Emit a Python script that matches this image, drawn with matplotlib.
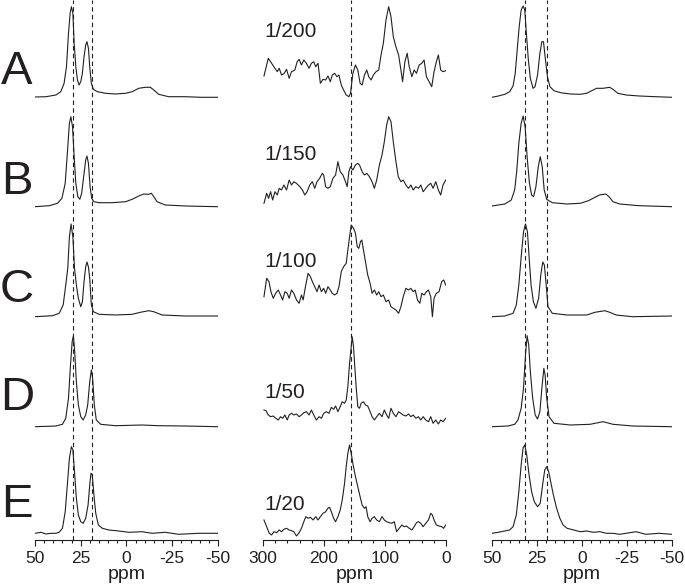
import matplotlib.pyplot as plt
from matplotlib.ticker import MultipleLocator

plt.rcParams['font.family'] = ['Liberation Sans', 'DejaVu Sans']
plt.rcParams['axes.unicode_minus'] = False

# ---------------- left column, ppm 50 .. -50 ----------------
left_a_ppm = [50, 44, 38.6, 35.9, 34.1, 32.8, 31.7, 30.8, 30.1, 29.3, 28.6, 27.7, 26.8, 25.9, 25.0, 24.1, 23.2, 22.3, 21.6,
              20.8, 20.1, 19.2, 18.1, 15.9, 11.4, 6.0, 0.5, -3.1, -6.7, -10.3, -13.0, -14.9, -17.6, -23.0, -32.1, -41.1, -49.8]
left_a_int = [0, 0.3, 2, 5.3, 13.7, 30.3, 63.7, 83.7, 90.3, 83.7, 53.7, 30.3, 17, 12, 15.3, 23.7, 40.3, 52, 55.3,
              48.7, 30.3, 13.7, 7.7, 5.3, 3.7, 3, 3.7, 5.3, 8.7, 9.7, 9.7, 7, 2.7, 0.3, 0.3, -0.3, -0.3]
left_b_ppm = [50, 42.2, 37.7, 35.3, 33.5, 32.2, 31.2, 30.4, 29.5, 28.6, 27.7, 26.6, 25.5, 24.5, 23.4, 22.3, 21.6, 20.8,
              19.9, 19.0, 17.8, 15.0, 7.8, 0.5, -3.1, -6.7, -9.4, -12.1, -13.6, -14.9, -16.7, -21.2, -32.1, -49.8]
left_b_int = [0.3, 1.3, 3.7, 8.7, 23.7, 57, 83.7, 90.3, 80.3, 50.3, 23.7, 10.3, 7.7, 13.7, 30.3, 47, 51, 43.7,
              20.3, 8.7, 5.3, 4.3, 4.3, 5.3, 7.7, 11, 13, 12.7, 13.7, 10.3, 5.3, 2, 1, 0.3]
left_c_ppm = [50, 40.4, 36.8, 34.6, 33.2, 32.1, 31.2, 30.3, 29.3, 28.4, 27.4, 26.3, 25.0, 24.1, 23.2, 22.3, 21.6, 20.8,
              20.1, 19.2, 18.1, 15.0, 6.0, -3.1, -7.6, -12.1, -14.9, -19.4, -32.1, -49.8]
left_c_int = [0.3, 1.3, 3.7, 12, 32, 48.7, 80, 93, 80, 48.7, 32, 18.7, 10.3, 15.3, 35.3, 50.3, 55, 50,
              38.7, 12, 5.3, 2.7, 2, 2.7, 4.7, 6.3, 5.3, 2, 1, 1]
left_d_ppm = [50, 38.6, 35.0, 33.2, 31.7, 30.6, 29.7, 29.0, 28.3, 27.4, 26.3, 25.0, 23.7, 22.3, 21.2, 20.1, 19.2, 18.5,
              17.6, 16.5, 14.1, 6.0, -8.5, -17.6, -32.1, -49.8]
left_d_int = [0.3, 1, 2.7, 8.7, 28.7, 62, 85.3, 91.3, 75.3, 45.3, 22, 10.3, 7, 12, 22, 45.3, 57, 48.7,
              22, 7, 2.7, 1.3, 2, 1.3, 1, 0.3]
left_e_ppm = [50, 46.7, 44.0, 41.3, 38.6, 36.8, 35.0, 33.5, 32.2, 31.2, 30.1, 29.3, 28.4, 27.4, 26.3, 25.0, 23.7, 22.3,
              21.0, 20.1, 19.4, 18.7, 17.8, 16.8, 15.4, 13.2, 9.6, 4.2, -1.3, -8.5, -13.9, -21.2, -28.4, -39.3, -49.8]
left_e_int = [0.7, 1.7, 0, 0.7, 0.7, 1.7, 5.7, 22.3, 52.3, 75.7, 87.3, 84, 62.3, 35.7, 19, 12.3, 10.7, 15.7,
              29, 49, 60.7, 59, 39, 20.7, 9, 5.7, 4, 3, 1.7, 2.3, 0.7, 1.7, -0.3, 0.7, 0.7]

# ---------------- middle column, ppm 300 .. 0 ----------------
mid_a_ppm = [298.4, 291.3, 285.9, 280.4, 276.6, 273.4, 269.6, 265.2, 261.4, 257.1, 253.3, 247.8, 244.0, 240.8, 237.0,
             233.1, 228.8, 224.5, 220.6, 216.8, 213.6, 209.8, 206.0, 201.6, 197.3, 193.5, 189.7, 186.4, 182.6, 178.8,
             175.5, 171.7, 167.9, 163.6, 159.2, 156.5, 152.7, 148.4, 144.6, 140.8, 137.5, 133.7, 129.9, 126.6, 122.8,
             119.0, 114.7, 110.3, 106.5, 102.7, 98.4, 94.0, 90.2, 86.4, 82.1, 77.7, 73.9, 71.2, 67.4, 63.6,
             60.3, 56.0, 52.2, 48.4, 44.0, 39.7, 35.9, 32.1, 27.7, 23.4, 19.6, 15.8, 12.5, 8.7, 4.9, 0.5]
mid_a_int = [21, 38.7, 33.7, 28.7, 25.3, 28.7, 22, 23.7, 27.7, 18.7, 25.3, 27, 35.3, 37.7, 32,
             37, 33.7, 28.7, 33.7, 35.3, 30.3, 33.7, 13.7, 17.7, 17, 21, 15.3, 22, 23.7, 20.3,
             22, 12, 7, 2, 0.3, 3.7, 23.7, 32, 27, 13.7, 12, 22, 27, 20.3, 17,
             22, 25.3, 27, 42, 53.7, 77, 90.3, 80.3, 60.3, 50.3, 42, 27, 15.3, 35.3, 43.7,
             30.3, 20.3, 27, 23.7, 32, 33.7, 37, 20.3, 15.3, 10.3, 25.3, 35.3, 42, 27, 25.3, 26.3]
mid_b_ppm = [298.4, 294.0, 290.8, 287.5, 284.2, 280.4, 276.6, 273.4, 269.6, 265.8, 261.4, 257.1, 253.3, 249.5, 245.1,
             239.7, 235.3, 231.5, 227.7, 223.4, 219.0, 215.2, 211.4, 207.1, 202.7, 200.5, 197.3, 193.5, 189.7, 185.3,
             181.0, 177.2, 173.4, 169.0, 164.7, 162.0, 159.2, 156.5, 152.7, 148.4, 144.6, 141.8, 137.5, 133.7, 129.9,
             125.5, 121.2, 117.4, 113.6, 109.2, 104.9, 101.1, 97.3, 94.0, 90.2, 86.4, 82.1, 78.2, 73.9, 70.1,
             65.8, 61.4, 57.6, 53.8, 49.4, 45.1, 41.3, 37.5, 33.1, 28.8, 25.0, 21.2, 16.8, 12.5, 8.7, 4.9, 0.5]
mid_b_int = [3.7, 13.7, 8.7, 15.3, 7, 15.3, 12, 18.7, 17, 22, 17, 27, 22, 25.3, 23.7,
             20.3, 17, 12, 15.3, 22, 25.3, 18.7, 25.3, 28.7, 33.7, 32, 20.3, 18.7, 20.3, 28.7,
             32, 45.3, 35.3, 32, 25.3, 20.3, 35.3, 40.3, 37, 42, 43.7, 42, 35.3, 32, 33.7,
             30.3, 25.3, 18.7, 27, 42, 52, 65.3, 82, 90.3, 85.3, 65.3, 45.3, 30.3, 25.3, 27,
             22, 18.7, 22, 17, 20.3, 18.7, 22, 15.3, 18.7, 22, 23.7, 18.7, 25.3, 17, 12, 22, 27]
mid_c_ppm = [298.4, 294.0, 290.2, 287.0, 283.2, 279.3, 275.0, 271.2, 267.9, 264.1, 260.3, 257.1, 253.3, 249.5, 245.1,
             240.8, 237.0, 234.2, 230.4, 226.1, 222.3, 219.0, 215.2, 211.4, 208.1, 204.3, 200.5, 197.3, 193.5, 189.7,
             186.4, 182.6, 178.8, 175.5, 171.7, 167.9, 163.6, 160.9, 158.1, 155.4, 151.6, 148.4, 145.6, 142.9, 140.2,
             138.0, 135.3, 132.0, 128.3, 124.4, 121.2, 117.4, 113.6, 110.3, 106.5, 102.7, 98.4, 94.0, 90.2, 86.4,
             82.1, 77.7, 73.9, 70.1, 65.8, 61.4, 57.6, 53.8, 50.5, 46.7, 42.9, 39.7, 35.9, 32.1, 28.8,
             25.0, 22.3, 19.6, 15.8, 11.4, 7.1, 3.8, 0.5]
mid_c_int = [20.3, 38.7, 35.3, 25.3, 18.7, 23.7, 27, 22, 17, 25.3, 23.7, 18.7, 27, 23.7, 17,
             13.7, 22, 17, 30.3, 43.7, 40.3, 35.3, 30.3, 25.3, 32, 25.3, 28.7, 23.7, 30.3, 27,
             23.7, 22, 23.7, 30.3, 45.3, 50.3, 53.7, 67, 80.3, 92, 88.7, 83.7, 70.3, 68.7, 75.3,
             77, 67, 55.3, 42, 33.7, 23.7, 27, 22, 25.3, 20.3, 22, 15.3, 17, 10.3, 8.7,
             7, 3.7, 10.3, 20.3, 28.7, 27, 28.7, 25.3, 27, 17, 13.7, 23.7, 22, 25.3, 27,
             20.3, 0.3, 18.7, 23.7, 25.3, 35.3, 37, 32]
mid_d_ppm = [298.4, 295.1, 291.3, 287.5, 283.2, 278.8, 275.0, 271.2, 267.9, 264.1, 260.3, 257.1, 253.3, 249.5, 245.1,
             240.8, 237.0, 233.1, 228.8, 224.5, 220.6, 216.8, 212.5, 208.1, 204.3, 200.5, 196.2, 191.8, 188.0, 184.2,
             181.0, 177.2, 173.4, 170.1, 166.3, 163.6, 160.9, 158.1, 155.4, 153.8, 151.6, 149.5, 147.3, 144.6, 141.8,
             139.1, 135.3, 132.0, 128.3, 124.4, 121.2, 117.4, 113.6, 109.2, 104.9, 101.1, 97.3, 94.0, 90.2, 86.4,
             82.1, 77.7, 73.9, 70.1, 65.8, 61.4, 57.6, 53.8, 49.4, 45.1, 41.3, 37.5, 33.1, 28.8, 25.0,
             21.2, 16.8, 12.5, 8.7, 4.9, 0.5]
mid_d_int = [17, 16.3, 12, 10.3, 11, 8.7, 7, 10.3, 8.7, 12, 7, 12, 13.7, 12, 13,
             10.3, 12, 14.3, 15.3, 12, 17, 12, 7, 10.3, 8.7, 13.7, 15.3, 13.7, 19.7, 17.7,
             21, 15.3, 20.3, 25.3, 23.7, 27, 40.3, 63.7, 80.3, 90.3, 80.3, 60.3, 40.3, 20.3, 18.7,
             23.7, 25.3, 22, 21, 15.3, 10.3, 7, 10.3, 13.7, 10.3, 17, 12, 8.7, 18.7, 13.7,
             10.3, 15.3, 13.7, 12, 11, 13, 10.3, 12, 8.7, 10.3, 7, 10.3, 7, 5.3, 10.3,
             3.7, 7, 3, 7, 5.3, 8.7]
mid_e_ppm = [298.4, 294.0, 289.7, 285.9, 282.1, 277.7, 273.4, 269.6, 265.8, 261.4, 257.1, 253.3, 249.5, 245.1, 240.8,
             237.0, 233.1, 229.9, 226.1, 222.3, 217.9, 213.6, 209.8, 206.0, 201.6, 197.3, 193.5, 190.8, 188.0, 184.2,
             181.0, 177.2, 173.4, 170.1, 166.3, 163.6, 160.9, 158.1, 155.4, 152.7, 148.4, 144.6, 140.8, 137.5, 133.7,
             131.0, 128.3, 124.4, 121.2, 117.4, 113.6, 109.2, 104.9, 101.1, 97.3, 92.9, 88.6, 84.8, 81.0, 76.7,
             72.3, 68.5, 64.7, 60.3, 56.0, 52.2, 48.4, 45.1, 41.3, 37.5, 33.1, 28.8, 25.0, 22.3, 19.6,
             15.8, 11.4, 7.1, 3.8, 0.5]
mid_e_int = [14, 7.3, 0.7, -1, 2.3, 1.3, 4, 2.3, 4.7, 5.7, 4, 3.3, 2.3, -2, 1.3,
             5.7, 12.3, 17.3, 15.7, 16.7, 14, 17.3, 14, 17.3, 20.7, 22.3, 25.7, 26.7, 22.3, 15.7,
             12.3, 17.3, 24, 34, 50.7, 67.3, 80.7, 89, 80.7, 70.7, 57.3, 47.3, 37.3, 29, 25.7,
             27.3, 17.3, 12.3, 15.7, 17.3, 14, 12.3, 17.3, 14, 12.3, 11.3, 10.7, 12.3, 2.3, 5.7,
             9, 7.3, 8, 5.7, 4, 7.3, 11.3, 12.3, 10.7, 7.3, 10.7, 14, 20.7, 19, 14,
             9, 8, 7.3, 5.7, 9]

# ---------------- right column, ppm 50 .. -50 ----------------
right_a_ppm = [50, 46.5, 42.9, 40.2, 38.3, 37.1, 36.0, 34.9, 33.8, 32.7, 31.8, 30.9, 29.8, 28.7, 27.2, 26.1, 24.7, 23.4,
               22.3, 21.4, 20.5, 19.2, 17.8, 15.6, 11.9, 6.5, 1.0, -2.6, -5.4, -8.1, -11.7, -15.4, -17.2, -19.9, -24.5,
               -31.8, -40.9, -50]
right_a_int = [-0.3, 1, 2.7, 5.3, 11, 23.7, 47, 70.3, 87, 91, 87, 63.7, 37, 18.7, 8.7, 10.3, 22, 43.7,
               55.3, 55.3, 40.3, 20.3, 10.3, 6.3, 4.3, 3, 2.7, 3.7, 6.3, 8.7, 8.7, 9.7, 7.7, 3.7, 2,
               1, 0.3, -0.3]
right_b_ppm = [50, 42.9, 39.3, 37.4, 36.2, 35.1, 33.8, 32.7, 31.6, 30.5, 29.2, 28.0, 26.9, 25.6, 24.3, 23.2, 22.1, 21.0,
               19.6, 16.5, 8.3, 1.0, -3.6, -7.2, -9.6, -13.2, -15.0, -17.2, -20.9, -31.8, -50]
right_b_int = [1, 3, 7, 17, 37, 63.7, 83.7, 91, 80.3, 50.3, 23.7, 12, 10.3, 20.3, 40.3, 50.3, 40.3, 17,
               7.7, 4.3, 3, 3.7, 6.3, 9.7, 12, 13, 10.3, 5.3, 3, 1.3, 0.3]
right_c_ppm = [50, 42.9, 38.3, 36.5, 35.1, 33.8, 32.5, 31.4, 30.3, 29.2, 28.3, 27.0, 25.6, 24.1, 22.9, 21.8, 20.9, 19.9,
               18.9, 16.5, 8.3, -2.6, -7.2, -12.7, -15.4, -19.0, -28.1, -50]
right_c_int = [0.3, 1, 3.7, 12, 32, 60, 85, 93, 85, 55, 32, 15.3, 8.7, 18.7, 42, 55, 52, 32,
               10.3, 3.7, 2, 2, 4.7, 6.3, 4.7, 2, 0.3, 1]
right_d_ppm = [50, 41.1, 37.4, 35.6, 33.8, 32.5, 31.4, 30.5, 29.6, 28.7, 27.4, 26.0, 24.7, 23.4, 22.3, 21.2, 20.5, 19.6,
               18.3, 15.6, 6.5, -4.5, -11.7, -17.2, -28.1, -50]
right_d_int = [0.3, 1, 2.7, 7, 18.7, 38.7, 72, 91.3, 82, 55.3, 28.7, 12, 8, 15.3, 38.7, 58.7, 52, 28.7,
               10.3, 3.7, 2, 2.7, 5.3, 2.7, 1, 0.3]
right_e_ppm = [50, 46.5, 42.9, 40.2, 38.3, 36.5, 35.1, 33.8, 32.7, 31.8, 30.7, 29.4, 28.0, 26.5, 24.7, 23.2, 21.9, 20.7,
               19.6, 18.5, 17.4, 15.9, 14.1, 12.3, 10.5, 8.3, 4.6, 1.0, -2.6, -6.3, -9.9, -13.6, -17.2, -20.9, -24.5,
               -30.0, -35.4, -42.7, -50]
right_e_int = [0.7, 1.7, 3, 4, 7.3, 19, 42.3, 69, 86.3, 89, 79, 59, 42.3, 32.3, 27.3, 30.7, 49, 64,
               67.3, 62.3, 52.3, 39, 25.7, 15.7, 9, 5.7, 4, 2.3, 3, 1.7, 2.3, 0.7, 0.7, -0.3, 0.7,
               2.3, -0.3, 0.7, -0.3]

row_labels = ['A', 'B', 'C', 'D', 'E']
dilutions = ['1/200', '1/150', '1/100', '1/50', '1/20']
left_ref_ppm = [29.3, 18.9]
mid_ref_ppm = [156.5]
right_ref_ppm = [31.6, 19.6]

left_traces = [(left_a_ppm, left_a_int), (left_b_ppm, left_b_int), (left_c_ppm, left_c_int),
               (left_d_ppm, left_d_int), (left_e_ppm, left_e_int)]
mid_traces = [(mid_a_ppm, mid_a_int), (mid_b_ppm, mid_b_int), (mid_c_ppm, mid_c_int),
              (mid_d_ppm, mid_d_int), (mid_e_ppm, mid_e_int)]
right_traces = [(right_a_ppm, right_a_int), (right_b_ppm, right_b_int), (right_c_ppm, right_c_int),
                (right_d_ppm, right_d_int), (right_e_ppm, right_e_int)]

# vertical stacking of the five spectra (baselines, in axis units)
row_offset = [443, 333, 223, 113, 6]
ink = '#231f20'

W, H = 685, 587
fig = plt.figure(figsize=(W / 100, H / 100), dpi=100)


def column(x0, x1, xlim, major, minor, traces, refs):
    ax = fig.add_axes([x0 / W, 47 / H, (x1 - x0) / W, 540 / H])
    for (ppm, inten), off in zip(traces, row_offset):
        ax.plot(ppm, [v + off for v in inten], color=ink, lw=0.8)
    for r in refs:
        ax.axvline(r, color=ink, lw=0.8, ls=(0, (4, 3)))
    ax.set_xlim(*xlim)
    ax.set_ylim(0, 540)
    for s in ['top', 'left', 'right']:
        ax.spines[s].set_visible(False)
    ax.spines['bottom'].set_linewidth(0.8)
    ax.spines['bottom'].set_color(ink)
    ax.set_yticks([])
    ax.xaxis.set_major_locator(MultipleLocator(major))
    ax.xaxis.set_minor_locator(MultipleLocator(minor))
    ax.tick_params(axis='x', which='major', length=4, width=0.8, color=ink, labelsize=12.5,
                   labelcolor=ink, pad=4)
    ax.tick_params(axis='x', which='minor', length=2.2, width=0.8, color=ink)
    ax.set_xlabel('ppm', fontsize=14, color=ink, labelpad=0)
    return ax


ax_l = column(35, 218, (50, -50), 25, 5, left_traces, left_ref_ppm)
ax_m = column(263, 446, (300, 0), 100, 20, mid_traces, mid_ref_ppm)
ax_r = column(492, 672, (50, -50), 25, 5, right_traces, right_ref_ppm)

# dilution labels inside the middle column
label_y = [503, 380, 273, 142, 30]
for txt, y in zip(dilutions, label_y):
    ax_m.text(298, y, txt, fontsize=15, color=ink, ha='left', va='baseline')

# row letters
letter_y = [72, 182, 290, 398, 505]
for lab, y in zip(row_labels, letter_y):
    fig.text(17 / W, 1 - y / H, lab, fontsize=34, color=ink, ha='center', va='center')

fig.savefig('out.png', dpi=100)
